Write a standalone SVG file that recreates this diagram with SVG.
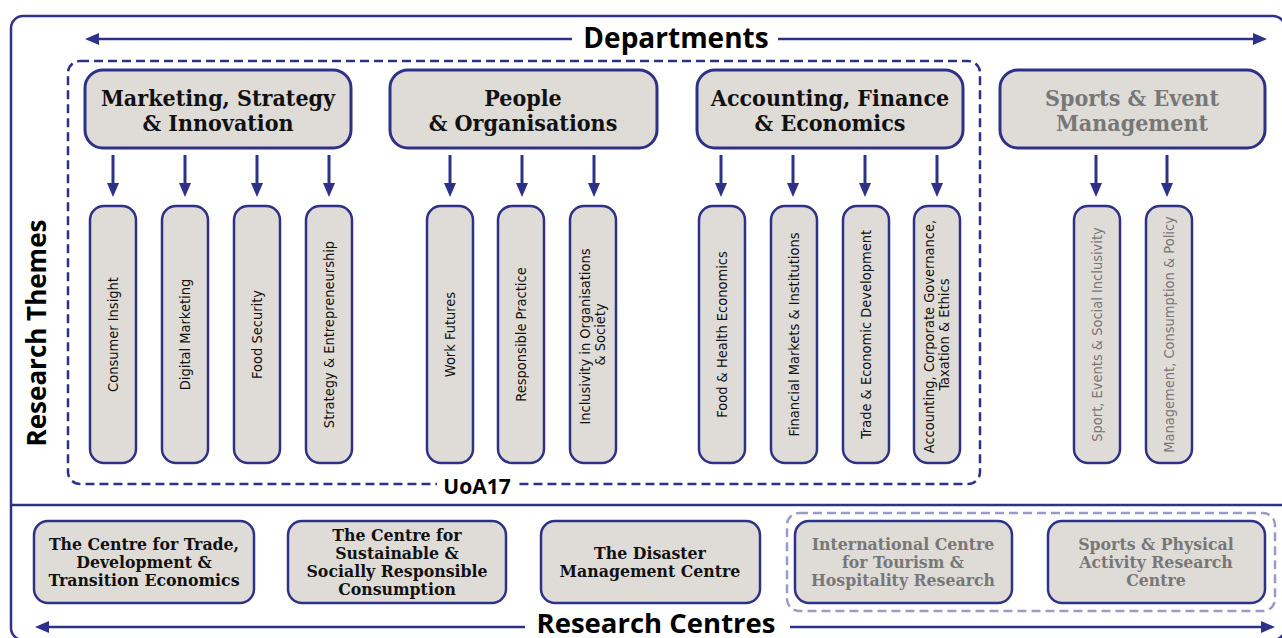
<svg xmlns="http://www.w3.org/2000/svg" width="1282" height="638" viewBox="0 0 1282 638">
  <style>
    .frame { fill: none; stroke: #2e3188; stroke-width: 2.5; }
    .dept { fill: #dfdbd7; stroke: #2e3188; stroke-width: 3; }
    .pill { fill: #dfdbd7; stroke: #2e3188; stroke-width: 2.5; }
    .centre { fill: #dfdbd7; stroke: #2e3188; stroke-width: 2.5; }
    .uoa { fill: none; stroke: #2e3188; stroke-width: 2.5; stroke-dasharray: 9 5; }
    .group-light { fill: none; stroke: #9b9bc9; stroke-width: 2.5; stroke-dasharray: 9 5; }
    .conn { fill: none; stroke: #2e3188; stroke-width: 3; }
    .axis { fill: none; stroke: #2e3188; stroke-width: 2.5; }
    .head { font-family: "Open Sans", "Noto Sans", "DejaVu Sans", sans-serif; font-weight: 700; font-size: 28px; fill: #000; text-anchor: middle; }
    .tag { font-family: "Open Sans", "Noto Sans", "DejaVu Sans", sans-serif; font-weight: 700; font-size: 21px; fill: #000; text-anchor: middle; }
    .dname { font-family: "DejaVu Serif Condensed", "DejaVu Serif", serif; font-stretch: condensed; font-weight: 700; font-size: 23px; fill: #111; text-anchor: middle; }
    .cname { font-family: "DejaVu Serif Condensed", "DejaVu Serif", serif; font-stretch: condensed; font-weight: 700; font-size: 17.5px; fill: #111; text-anchor: middle; }
    .theme { font-family: "DejaVu Sans Condensed", "DejaVu Sans", sans-serif; font-stretch: condensed; font-size: 14.5px; fill: #111; text-anchor: middle; }
    .muted { fill: #777; }
  </style>
  <defs>
    <marker id="ah" viewBox="0 0 14 12" refX="2" refY="6" markerWidth="14" markerHeight="12" markerUnits="userSpaceOnUse" orient="auto">
      <path d="M0,0 L14,6 L0,12 z" fill="#2e3188"/>
    </marker>
  </defs>

  <!-- outer frame and section divider -->
  <rect class="frame" x="11" y="16" width="1274" height="624" rx="12"/>
  <line class="frame" x1="11" y1="505" x2="1285" y2="505"/>

  <!-- axis labels -->
  <g id="axis-departments">
    <line class="axis" x1="572" y1="39" x2="97" y2="39" marker-end="url(#ah)"/>
    <line class="axis" x1="778" y1="39" x2="1255" y2="39" marker-end="url(#ah)"/>
    <text class="head" x="676" y="48">Departments</text>
  </g>
  <g id="axis-themes">
    <text class="head" style="font-size:26px" transform="translate(46,333) rotate(-90)" x="0" y="0">Research Themes</text>
  </g>
  <g id="axis-centres">
    <line class="axis" x1="525" y1="627" x2="47" y2="627" marker-end="url(#ah)"/>
    <line class="axis" x1="790" y1="627" x2="1263" y2="627" marker-end="url(#ah)"/>
    <text class="head" style="font-size:27.5px" x="656" y="633">Research Centres</text>
  </g>

  <!-- UoA17 grouping -->
  <g id="uoa17">
    <rect class="uoa" x="68" y="61" width="912" height="423" rx="12"/>
    <rect x="437" y="474" width="81" height="23" fill="#fff"/>
    <text class="tag" x="477" y="494">UoA17</text>
  </g>

  <!-- departments -->
  <g id="dept-msi">
    <rect class="dept" x="85" y="70" width="266" height="78" rx="18"/>
    <text class="dname" x="218" y="106">Marketing, Strategy</text>
    <text class="dname" x="218" y="131">&amp; Innovation</text>
  </g>
  <g id="dept-po">
    <rect class="dept" x="390" y="70" width="267" height="78" rx="18"/>
    <text class="dname" x="523" y="106">People</text>
    <text class="dname" x="523" y="131">&amp; Organisations</text>
  </g>
  <g id="dept-afe">
    <rect class="dept" x="697" y="70" width="266" height="78" rx="18"/>
    <text class="dname" x="830" y="106">Accounting, Finance</text>
    <text class="dname" x="830" y="131">&amp; Economics</text>
  </g>
  <g id="dept-sem">
    <rect class="dept" x="1000" y="70" width="265" height="78" rx="18"/>
    <text class="dname muted" x="1132" y="106">Sports &amp; Event</text>
    <text class="dname muted" x="1132" y="131">Management</text>
  </g>

  <!-- department to theme connectors -->
  <g id="connectors">
    <line class="conn" x1="113" y1="155" x2="113" y2="185" marker-end="url(#ah)"/>
    <line class="conn" x1="185" y1="155" x2="185" y2="185" marker-end="url(#ah)"/>
    <line class="conn" x1="257" y1="155" x2="257" y2="185" marker-end="url(#ah)"/>
    <line class="conn" x1="329" y1="155" x2="329" y2="185" marker-end="url(#ah)"/>
    <line class="conn" x1="450" y1="155" x2="450" y2="185" marker-end="url(#ah)"/>
    <line class="conn" x1="522" y1="155" x2="522" y2="185" marker-end="url(#ah)"/>
    <line class="conn" x1="594" y1="155" x2="594" y2="185" marker-end="url(#ah)"/>
    <line class="conn" x1="721" y1="155" x2="721" y2="185" marker-end="url(#ah)"/>
    <line class="conn" x1="793" y1="155" x2="793" y2="185" marker-end="url(#ah)"/>
    <line class="conn" x1="865" y1="155" x2="865" y2="185" marker-end="url(#ah)"/>
    <line class="conn" x1="937" y1="155" x2="937" y2="185" marker-end="url(#ah)"/>
    <line class="conn" x1="1096" y1="155" x2="1096" y2="185" marker-end="url(#ah)"/>
    <line class="conn" x1="1167" y1="155" x2="1167" y2="185" marker-end="url(#ah)"/>
  </g>

  <!-- research themes -->
  <g id="theme-consumer-insight">
    <rect class="pill" x="90" y="206" width="46" height="257" rx="14"/>
    <text class="theme" transform="translate(113,334.5) rotate(-90)" x="0" y="5">Consumer Insight</text>
  </g>
  <g id="theme-digital-marketing">
    <rect class="pill" x="162" y="206" width="46" height="257" rx="14"/>
    <text class="theme" transform="translate(185,334.5) rotate(-90)" x="0" y="5">Digital Marketing</text>
  </g>
  <g id="theme-food-security">
    <rect class="pill" x="234" y="206" width="46" height="257" rx="14"/>
    <text class="theme" transform="translate(257,334.5) rotate(-90)" x="0" y="5">Food Security</text>
  </g>
  <g id="theme-strategy">
    <rect class="pill" x="306" y="206" width="46" height="257" rx="14"/>
    <text class="theme" transform="translate(329,334.5) rotate(-90)" x="0" y="5">Strategy &amp; Entrepreneurship</text>
  </g>
  <g id="theme-work-futures">
    <rect class="pill" x="427" y="206" width="46" height="257" rx="14"/>
    <text class="theme" transform="translate(450,334.5) rotate(-90)" x="0" y="5">Work Futures</text>
  </g>
  <g id="theme-responsible-practice">
    <rect class="pill" x="498" y="206" width="46" height="257" rx="14"/>
    <text class="theme" transform="translate(521,334.5) rotate(-90)" x="0" y="5">Responsible Practice</text>
  </g>
  <g id="theme-inclusivity">
    <rect class="pill" x="570" y="206" width="46" height="257" rx="14"/>
    <text class="theme" transform="translate(593,334.5) rotate(-90)">
      <tspan x="0" y="-3">Inclusivity in Organisations</tspan>
      <tspan x="0" y="12">&amp; Society</tspan>
    </text>
  </g>
  <g id="theme-food-health">
    <rect class="pill" x="699" y="206" width="46" height="257" rx="14"/>
    <text class="theme" transform="translate(722,334.5) rotate(-90)" x="0" y="5">Food &amp; Health Economics</text>
  </g>
  <g id="theme-financial-markets">
    <rect class="pill" x="771" y="206" width="46" height="257" rx="14"/>
    <text class="theme" transform="translate(794,334.5) rotate(-90)" x="0" y="5">Financial Markets &amp; Institutions</text>
  </g>
  <g id="theme-trade-development">
    <rect class="pill" x="843" y="206" width="46" height="257" rx="14"/>
    <text class="theme" transform="translate(866,334.5) rotate(-90)" x="0" y="5">Trade &amp; Economic Development</text>
  </g>
  <g id="theme-accounting">
    <rect class="pill" x="914" y="206" width="46" height="257" rx="14"/>
    <text class="theme" transform="translate(937,334.5) rotate(-90)">
      <tspan x="0" y="-3">Accounting, Corporate Governance,</tspan>
      <tspan x="0" y="12">Taxation &amp; Ethics</tspan>
    </text>
  </g>
  <g id="theme-sport-inclusivity">
    <rect class="pill" x="1074" y="206" width="46" height="257" rx="14"/>
    <text class="theme muted" transform="translate(1097,334.5) rotate(-90)" x="0" y="5">Sport, Events &amp; Social Inclusivity</text>
  </g>
  <g id="theme-management-policy">
    <rect class="pill" x="1146" y="206" width="46" height="257" rx="14"/>
    <text class="theme muted" transform="translate(1169,334.5) rotate(-90)" x="0" y="5">Management, Consumption &amp; Policy</text>
  </g>

  <!-- research centres -->
  <g id="centre-trade">
    <rect class="centre" x="34" y="521" width="220" height="82" rx="14"/>
    <text class="cname" x="144" y="550">The Centre for Trade,</text>
    <text class="cname" x="144" y="568">Development &amp;</text>
    <text class="cname" x="144" y="586">Transition Economics</text>
  </g>
  <g id="centre-sustainable">
    <rect class="centre" x="288" y="521" width="218" height="82" rx="14"/>
    <text class="cname" x="397" y="541">The Centre for</text>
    <text class="cname" x="397" y="559">Sustainable &amp;</text>
    <text class="cname" x="397" y="577">Socially Responsible</text>
    <text class="cname" x="397" y="595">Consumption</text>
  </g>
  <g id="centre-disaster">
    <rect class="centre" x="541" y="521" width="219" height="82" rx="14"/>
    <text class="cname" x="650" y="559">The Disaster</text>
    <text class="cname" x="650" y="577">Management Centre</text>
  </g>
  <g id="sports-centres">
    <rect class="group-light" x="787" y="513" width="488" height="98" rx="12"/>
  </g>
  <g id="centre-tourism">
    <rect class="centre" x="795" y="521" width="217" height="82" rx="14"/>
    <text class="cname muted" x="903" y="550">International Centre</text>
    <text class="cname muted" x="903" y="568">for Tourism &amp;</text>
    <text class="cname muted" x="903" y="586">Hospitality Research</text>
  </g>
  <g id="centre-sports">
    <rect class="centre" x="1048" y="521" width="217" height="82" rx="14"/>
    <text class="cname muted" x="1156" y="550">Sports &amp; Physical</text>
    <text class="cname muted" x="1156" y="568">Activity Research</text>
    <text class="cname muted" x="1156" y="586">Centre</text>
  </g>
</svg>
